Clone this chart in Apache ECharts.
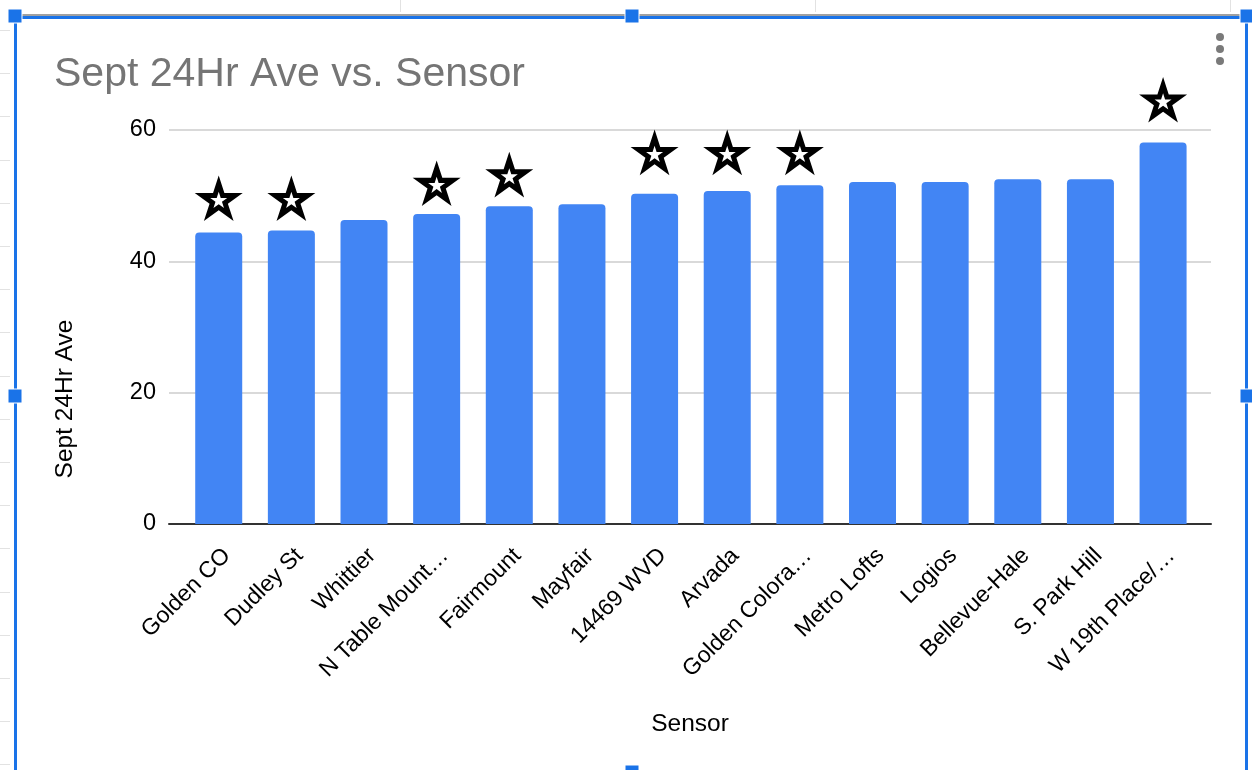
<!DOCTYPE html>
<html>
<head>
<meta charset="utf-8">
<title>Sept 24Hr Ave vs. Sensor</title>
<script src="https://cdn.jsdelivr.net/npm/echarts@6/dist/echarts.min.js"></script>
<style>
  html, body { margin: 0; padding: 0; background: #ffffff; }
  #chart { width: 1252px; height: 770px; }
</style>
</head>
<body>
<div id="chart"></div>
<script>
// Sensors, ordered by their September 24-hour average
const categories = ['Golden CO', 'Dudley St', 'Whittier', 'N Table Mount…', 'Fairmount', 'Mayfair',
  '14469 WVD', 'Arvada', 'Golden Colora…', 'Metro Lofts', 'Logios', 'Bellevue-Hale',
  'S. Park Hill', 'W 19th Place/…'];
const sept24HrAve = [44.4, 44.7, 46.3, 47.2, 48.4, 48.7, 50.3, 50.7, 51.6, 52.1, 52.1, 52.5, 52.5, 58.1];
// Heights at which the star markers sit above flagged sensors (null = no star)
const starLevels = [49.6, 49.6, null, 51.9, 53.2, null, 56.6, 56.6, 56.6, null, null, null, null, 64.6];
const yTicks = [0, 20, 40, 60];

const FONT = "'Liberation Sans', Arial, Helvetica, sans-serif";
const STAR = 'path://M0,-100L22.45,-30.9L95.1,-30.9L36.3,11.8L58.8,80.9L0,38.2L-58.8,80.9L-36.3,11.8L-95.1,-30.9L-22.45,-30.9Z';

const chart = echarts.init(document.getElementById('chart'), null, { renderer: 'canvas' });

// Decorative sheet cell marks along the left and top edges
const cellMarks = [];
for (let y = 30; y < 770; y += 43.2) {
  cellMarks.push({ type: 'rect', shape: { x: 0, y: Math.round(y), width: 10, height: 1 }, style: { fill: '#e2e2e2' }, silent: true });
}
[400, 815, 1230].forEach(function (x) {
  cellMarks.push({ type: 'rect', shape: { x: x, y: 0, width: 1, height: 12 }, style: { fill: '#e2e2e2' }, silent: true });
});

// Selection frame with handles, plus the chart menu dots
const frameBlue = '#1a73e8';
const handle = function (cx, cy) {
  return { type: 'rect', shape: { x: cx - 7, y: cy - 7, width: 14, height: 14 },
    style: { fill: frameBlue, stroke: '#ffffff', lineWidth: 1 }, z: 20, silent: true };
};
const frame = [
  { type: 'rect', shape: { x: 15, y: 14, width: 1233, height: 2 }, style: { fill: '#a0a0a0' }, z: 19, silent: true },
  { type: 'rect', shape: { x: 15, y: 16, width: 1233, height: 3 }, style: { fill: frameBlue }, z: 19, silent: true },
  { type: 'rect', shape: { x: 14, y: 15, width: 3, height: 760 }, style: { fill: frameBlue }, z: 19, silent: true },
  { type: 'rect', shape: { x: 1245, y: 15, width: 3, height: 760 }, style: { fill: frameBlue }, z: 19, silent: true },
  handle(15, 16), handle(632, 16), handle(1247, 16), handle(15, 396), handle(1247, 396), handle(632, 772),
  { type: 'circle', shape: { cx: 1220, cy: 37, r: 4 }, style: { fill: '#7a7a7a' }, silent: true },
  { type: 'circle', shape: { cx: 1220, cy: 49, r: 4 }, style: { fill: '#7a7a7a' }, silent: true },
  { type: 'circle', shape: { cx: 1220, cy: 61, r: 4 }, style: { fill: '#7a7a7a' }, silent: true }
];

// Axis titles
const axisTitles = [
  { type: 'text', x: 65, y: 399, rotation: Math.PI / 2,
    style: { text: 'Sept 24Hr Ave', font: '24.5px ' + FONT, fill: '#000000', align: 'center', verticalAlign: 'middle' } },
  { type: 'text', x: 690, y: 724,
    style: { text: 'Sensor', font: '24.5px ' + FONT, fill: '#000000', align: 'center', verticalAlign: 'middle' } }
];

const option = {
  animation: false,
  backgroundColor: '#ffffff',
  title: {
    text: 'Sept 24Hr Ave vs. Sensor',
    left: 54,
    top: 54,
    padding: 0,
    textStyle: { fontFamily: FONT, fontSize: 41, fontWeight: 'normal', color: '#757575' }
  },
  graphic: cellMarks.concat(frame, axisTitles),
  grid: [
    // background grid: gridlines, value labels and baseline span the full plot width
    { left: 169, right: 41, top: 130, bottom: 246 },
    // bar grid: category bands inset from the plot edges
    { left: 182.4, right: 52.6, top: 130, bottom: 246 }
  ],
  xAxis: [
    { gridIndex: 0, type: 'value', min: 0, max: 1,
      axisLine: { show: true, onZero: false, lineStyle: { color: '#333333', width: 2 } },
      axisTick: { show: false }, axisLabel: { show: false }, splitLine: { show: false } },
    { gridIndex: 1, type: 'category', data: categories,
      axisLine: { show: false }, axisTick: { show: false },
      axisLabel: { interval: 0, rotate: 45, margin: 20, verticalAlign: 'top',
        fontFamily: FONT, fontSize: 23, color: '#000000' } }
  ],
  yAxis: [
    { gridIndex: 0, type: 'value', min: yTicks[0], max: yTicks[yTicks.length - 1], interval: yTicks[1] - yTicks[0],
      axisLine: { show: false }, axisTick: { show: false },
      axisLabel: { margin: 13, fontFamily: FONT, fontSize: 23.5, color: '#000000' },
      splitLine: { show: true, lineStyle: { color: '#cccccc', width: 1.5 } } },
    { gridIndex: 1, type: 'value', min: yTicks[0], max: yTicks[yTicks.length - 1], show: false }
  ],
  series: [
    {
      name: 'Sept 24Hr Ave',
      type: 'bar',
      xAxisIndex: 1, yAxisIndex: 1,
      data: sept24HrAve,
      barWidth: 47,
      itemStyle: { color: '#4285f4', borderRadius: [4, 4, 0, 0] },
      z: 2
    },
    {
      name: 'star',
      type: 'scatter',
      xAxisIndex: 1, yAxisIndex: 1,
      data: starLevels,
      symbol: STAR,
      symbolSize: [48, 45.6],
      itemStyle: { color: '#000000', opacity: 1 },
      clip: false,
      z: 3
    },
    {
      name: 'star centre',
      type: 'scatter',
      xAxisIndex: 1, yAxisIndex: 1,
      data: starLevels,
      symbol: STAR,
      symbolSize: [17, 16.2],
      symbolOffset: [0, 1.6],
      itemStyle: { color: '#ffffff', opacity: 1 },
      clip: false,
      z: 4
    }
  ]
};

chart.setOption(option);
</script>
</body>
</html>
